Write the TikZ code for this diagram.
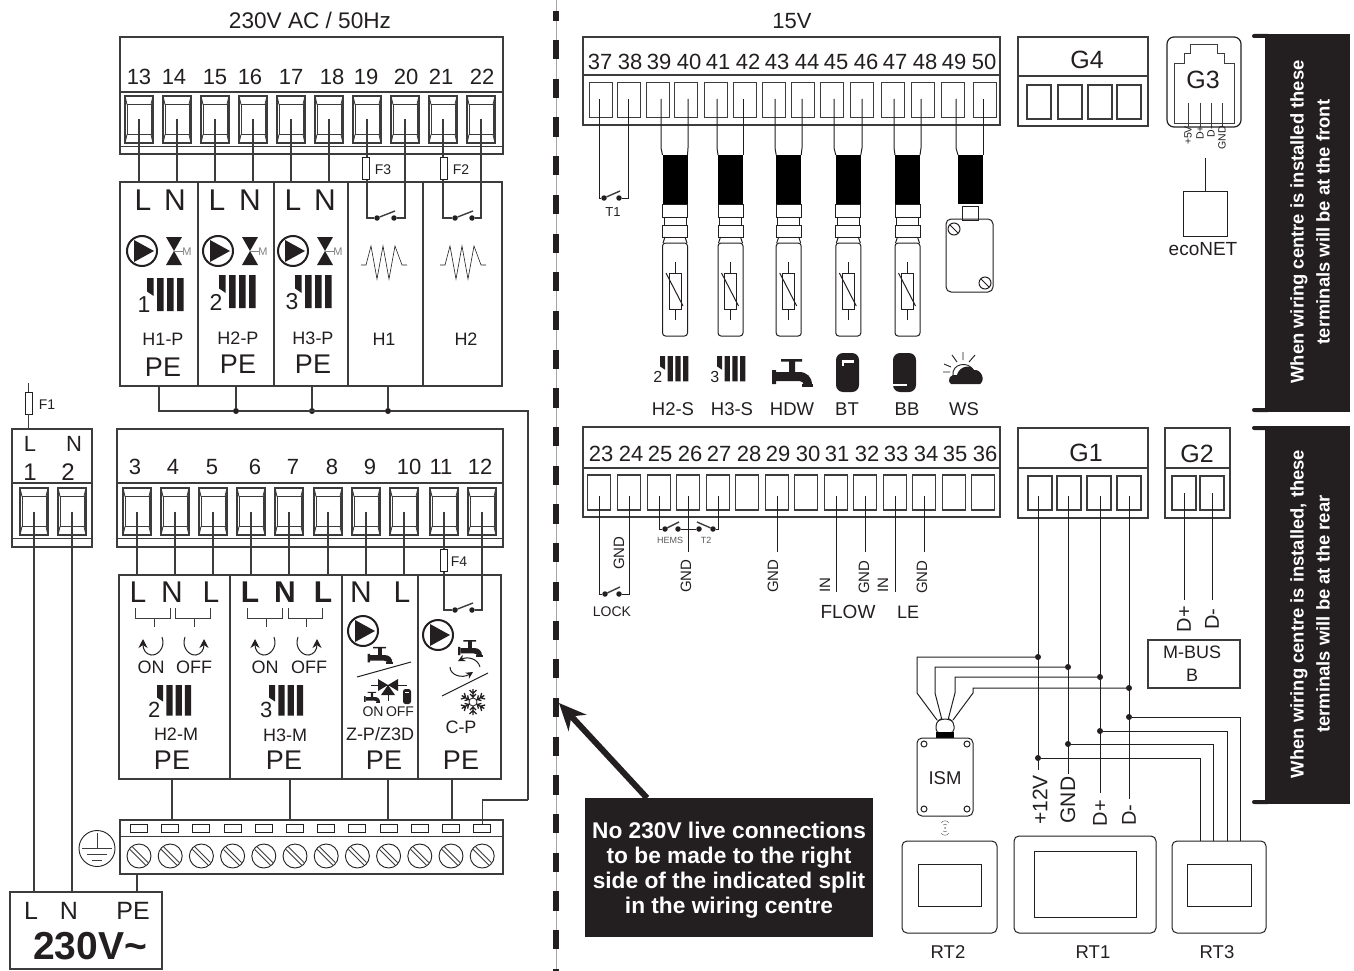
\documentclass[tikz,border=0pt]{standalone}
\usepackage{fontspec}
\setmainfont{Liberation Sans}
\usetikzlibrary{arrows.meta}
\definecolor{ink}{HTML}{231F20}
\definecolor{wirecol}{HTML}{3C3C3C}

% terminal with inner frame
\newcommand{\bigterm}[3]{
  \node[bigbox] (t#1) at (#2,#3) {};
  \draw[frame] (#2-12,#3-15) rectangle (#2+12,#3+15);
  \draw[frame] (#2-14,#3-23.5) -- (#2-12,#3-15) (#2+14,#3-23.5) -- (#2+12,#3-15);
  \draw[frame] (#2-14,#3+23.5) -- (#2-12,#3+15) (#2+14,#3+23.5) -- (#2+12,#3+15);
}
\newcommand{\pumpicon}[2]{
  \draw[line width=2pt,ink] (#1,#2) circle (15pt);
  \fill[ink] (#1-8,#2-11) -- (#1+12,#2) -- (#1-8,#2+11) -- cycle;
}
\newcommand{\valveicon}[2]{
  \fill[ink] (#1-8,#2-14) -- (#1+8,#2-14) -- (#1-8,#2+14) -- (#1+8,#2+14) -- cycle;
  \draw[gray,thick] (#1,#2) -- (#1+9,#2);
}
% number, x, y, scale, number font
\newcommand{\radicon}[5]{
  \begin{scope}[shift={(#2,#3)},scale=#4]
    \fill[ink] (0,0) -- (6.7,0) -- (6.7,18) -- (4.5,16.5) -- (0,13.5) -- cycle;
    \fill[ink] (10,0) rectangle (16.7,33) (20,0) rectangle (26.7,33) (30,0) rectangle (36.7,33);
    \node[fs=#5] (rnum#1#2) at (-3,27) {#1};
  \end{scope}
}
\newcommand{\tapicon}[3]{
  \begin{scope}[shift={(#1,#2)},scale=#3]
    \fill[ink] (-11,-13) rectangle (10,-10.5) (-3,-10.5) rectangle (3,1) (-20,-2) rectangle (-16,12);
    \fill[ink] (-16,0) -- (7,0) .. controls (15,0) and (20,5) .. (20,13) -- (12,13) .. controls (12,11) and (10,9) .. (6,9) -- (-16,9) -- cycle;
    \fill[ink] (10,12) rectangle (21,15);
  \end{scope}
}
\newcommand{\heaticon}[2]{
  \draw[ink,semithick] (#1,#2) -- (#1+5,#2) -- (#1+10,#2-19) -- (#1+16,#2+14) -- (#1+22,#2-19) -- (#1+28,#2+14) -- (#1+34,#2-19) -- (#1+41,#2) -- (#1+46,#2);
}
\newcommand{\fuse}[3]{
  \node[fusebox] (#1) at (#2,#3) {};
}
% switch dots and lever
\newcommand{\contact}[4]{
  \node[dot,minimum size=5.5pt] (#1a) at (#2,#4) {};
  \node[dot,minimum size=5.5pt] (#1b) at (#3,#4) {};
  \path (#1a) edge [wire] (#3+1,#4-7);
}
% sensor body below the cable
\newcommand{\sensor}[4]{
  \node[cable] (s#1) at (#2,179.5) {};
  \draw[thinwire] (w#3) -- (w#3 |- 0,148) -- (s#1.north west);
  \draw[thinwire] (w#4) -- (w#4 |- 0,148) -- (s#1.north east);
  \draw[thinwire] (#2-12.5,204) rectangle (#2+12.5,217);
  \draw[thinwire] (#2-11,217) rectangle (#2+11,225);
  \draw[thinwire] (#2-12.5,225) rectangle (#2+12.5,237);
  \draw[thinwire] (#2-10,237) -- (#2-12,243) (#2+10,237) -- (#2+12,243);
  \draw[thinwire,rounded corners=3pt] (#2-12.5,243) -- (#2+12.5,243) -- (#2+12.5,336) -- (#2-12.5,336) -- cycle;
  \draw[thinwire] (#2,262) -- (#2,320);
  \draw[thinwire,fill=white] (#2-6,273) rectangle (#2+6,309);
  \draw[thinwire] (#2-9,273) -- (#2+8,306);
}
\newcommand{\curlon}[2]{
  \draw[ink,line width=1pt,-{Stealth[length=9pt,width=9pt]}] (#1+10,#2-8) .. controls (#1+14,#2+3) and (#1+5,#2+11) .. (#1-1,#2+10) .. controls (#1-6,#2+9) and (#1-9,#2+5) .. (#1-9,#2-6);
}
\newcommand{\curloff}[2]{
  \draw[ink,line width=1pt,-{Stealth[length=9pt,width=9pt]}] (#1-10,#2-8) .. controls (#1-14,#2+3) and (#1-5,#2+11) .. (#1+1,#2+10) .. controls (#1+6,#2+9) and (#1+9,#2+5) .. (#1+9,#2-6);
}
\newcommand{\relaybrack}[6]{
  \draw[frame] (#1,608) -- (#1,618) -- (#2,618) -- (#2,608);
  \draw[frame] (#3,608) -- (#3,618) -- (#4,618) -- (#4,608);
  \draw[frame] (#5,618) -- (#5,627) (#6,618) -- (#6,627);
}
\newcommand{\screwhead}[3]{
  \node[screw] (#1) at (#2,#3) {};
  \draw[frame] (#2-9,#3-6.5) -- (#2+6.5,#3+9) (#2-6.5,#3-9) -- (#2+9,#3+6.5);
}

\begin{document}
\begin{tikzpicture}[x=1pt,y=-1pt,every node/.style={inner sep=0pt,outer sep=0pt}]
  \tikzset{fs/.style={font=\fontsize{#1}{#1}\selectfont,text=ink}}
  \tikzset{fsb/.style={font=\fontsize{#1}{#1}\selectfont\bfseries,text=ink}}
  \tikzset{frame/.style={draw=wirecol,line width=0.9pt}}
  \tikzset{wire/.style={draw=wirecol,line width=1.4pt}}
  \tikzset{thinwire/.style={draw=ink,line width=1pt}}
  \tikzset{blockbox/.style={draw=wirecol,line width=1.4pt,fill=white,rectangle}}
  \tikzset{bigbox/.style={draw=wirecol,line width=1.2pt,rectangle,minimum width=28pt,minimum height=47pt}}
  \tikzset{smallbox/.style={draw=wirecol,line width=1.2pt,rectangle,minimum width=23pt,minimum height=35pt}}
  \tikzset{modbox/.style={draw=wirecol,line width=1.4pt,rectangle,minimum height=204pt}}
  \tikzset{fusebox/.style={draw=ink,line width=0.9pt,fill=white,rectangle,minimum width=7pt,minimum height=22pt}}
  \tikzset{dot/.style={circle,fill=ink,minimum size=6pt}}
  \tikzset{cable/.style={fill=black,rectangle,minimum width=25pt,minimum height=49pt}}
  \tikzset{screw/.style={circle,draw=ink,line width=0.9pt,minimum size=24pt}}
  \tikzset{panel/.style={draw=ink,line width=1pt,rectangle,rounded corners=5pt}}
  \tikzset{display/.style={draw=ink,line width=1pt,rectangle}}
  \tikzset{bar/.style={fill=ink,rectangle,minimum width=85pt,minimum height=378pt}}
  \tikzset{bartext/.style={rotate=90,align=center,text=white,font=\fontsize{18.4}{26}\selectfont\bfseries}}
  \useasboundingbox (0,0) rectangle (1354,971);

  % split line
  \draw[gray!70,line width=0.7pt] (556,0) -- (556,971);
  \draw[ink,line width=6pt,dash pattern=on 19.2pt off 19.5pt] (556,40) -- (556,971);
  \draw[ink,line width=6pt] (556,11) -- (556,21);

  \node[fs=22.6] (mains) at (310,20) {230V AC / 50Hz};
  \node[fs=22] (low) at (792,21) {15V};

  % terminals 13-22
  \node[blockbox,minimum width=383pt,minimum height=117pt] (bloA) at (311.5,95.5) {};
  \draw[wire] (120,92) -- (503,92);
  \draw[frame] (120,146) -- (503,146);
  \foreach \n/\bx/\lx in {13/139/139,14/177/174,15/215/215,16/253/250,17/291/291,18/329/332,19/367/366,20/405/406,21/443/441,22/481/482}{
    \bigterm{\n}{\bx}{119.5}
    \node[fs=22] (lab\n) at (\lx,77) {\n};
  }

  % modules H1-P .. H2
  \node[modbox,minimum width=78pt] (mHOP) at (159,284) {};
  \node[modbox,minimum width=76pt] (mHTP) at (236,284) {};
  \node[modbox,minimum width=74pt] (mHRP) at (311,284) {};
  \node[modbox,minimum width=75pt] (mHO) at (385.5,284) {};
  \node[modbox,minimum width=79pt] (mHT) at (462.5,284) {};
  \foreach \n in {13,14,15,16,17,18}{
    \path (t\n.center) edge [wire] (t\n.center |- mHOP.north);
  }
  \foreach \x/\y/\lab in {143/200/L,175/200/N,217/200/L,250/200/N,293/200/L,325/200/N}{
    \node[fs=30] (top\x) at (\x,\y) {\lab};
  }
  \foreach \x/\v in {142/174,218/250,293/325}{
    \pumpicon{\x}{251}
    \valveicon{\v}{251}
    \node[fs=11,text=gray] (mot\v) at (\v+13,252) {M};
  }
  \radicon{1}{147}{278}{1}{23}
  \radicon{2}{219}{275}{1}{23}
  \radicon{3}{295}{275}{1}{23}
  \node[fs=18] (tHOP) at (163,339) {H1-P};
  \node[fs=18] (tHTP) at (238,338) {H2-P};
  \node[fs=18] (tHRP) at (313,338) {H3-P};
  \node[fs=18] (tHO) at (384,339) {H1};
  \node[fs=18] (tHT) at (466,339) {H2};
  \node[fs=27] (peA) at (163,367) {PE};
  \node[fs=27] (peB) at (238,364) {PE};
  \node[fs=27] (peC) at (313,364) {PE};
  \heaticon{361}{265}
  \heaticon{440}{265}

  % relay contacts H1, H2
  \contact{swA}{377}{394}{218}
  \contact{swB}{455}{472}{218}
  \draw[wire] (t19.center) |- (swAa);
  \draw[wire] (swAb) -| (t20.center);
  \draw[wire] (t21.center) |- (swBa);
  \draw[wire] (swBb) -| (t22.center);
  \fuse{fThree}{365.5}{168}
  \fuse{fTwo}{443.5}{168}
  \node[fs=14] (lThree) at (383,170) {F3};
  \node[fs=14] (lTwo) at (461,170) {F2};

  % PE bus
  \node[dot] (jA) at (236,411) {};
  \node[dot] (jB) at (312,411) {};
  \node[dot] (jC) at (388,411) {};
  \coordinate (busR) at (528,800);
  \path (jA) edge [wire] (jA |- mHTP.south);
  \path (jB) edge [wire] (jB |- mHRP.south);
  \path (jC) edge [wire] (jC |- mHO.south);
  \draw[wire] (mHOP.south) |- (jA);
  \path (jA) edge [wire] (jC);
  \draw[wire] (jC) -| (busR);

  % terminals 1-2
  \node[blockbox,minimum width=80pt,minimum height=118pt] (bloB) at (52,488) {};
  \draw[wire] (12,483) -- (92,483);
  \draw[frame] (12,538) -- (92,538);
  \bigterm{1}{34}{511.5}
  \bigterm{2}{72}{511.5}
  \node[fs=22] (labL) at (30,444) {L};
  \node[fs=22] (labN) at (74,444) {N};
  \node[fs=24] (lab1) at (30,472) {1};
  \node[fs=24] (lab2) at (68,472) {2};
  \coordinate (fuseTop) at (28.5,383);
  \fuse{fOne}{28.5}{403}
  \path (fuseTop) edge [wire] (fOne.north);
  \path (fOne.south) edge [wire] (fOne.south |- bloB.north);
  \node[fs=14] (lOne) at (47,405) {F1};

  % terminals 3-12
  \node[blockbox,minimum width=386pt,minimum height=118pt] (bloC) at (310,488) {};
  \draw[wire] (117,483) -- (503,483);
  \draw[frame] (117,538) -- (503,538);
  \foreach \n/\bx/\lx in {3/137/135,4/175/173,5/213/212,6/251/255,7/289/293,8/328/332,9/366/370,10/404/409,11/444/441,12/482/480}{
    \bigterm{\n}{\bx}{511.5}
    \node[fs=22] (lab\n) at (\lx,467) {\n};
  }

  % modules H2-M .. C-P
  \node[modbox,minimum width=111pt] (mHTM) at (174.5,677) {};
  \node[modbox,minimum width=112pt] (mHRM) at (286,677) {};
  \node[modbox,minimum width=76pt] (mZP) at (380,677) {};
  \node[modbox,minimum width=83pt] (mCP) at (459.5,677) {};
  \foreach \n in {3,4,5,6,7,8,9,10}{
    \path (t\n.center) edge [wire] (t\n.center |- mHTM.north);
  }
  \foreach \x/\lab in {138/L,172/N,211/L,361/N,402/L}{
    \node[fs=30] (ln\x) at (\x,592) {\lab};
  }
  \foreach \x/\lab in {250/L,285/N,323/L}{
    \node[fsb=30] (ln\x) at (\x,592) {\lab};
  }
  \relaybrack{135}{170}{175}{210}{154}{194}
  \relaybrack{247}{282}{288}{322}{266}{306}
  \curlon{152}{645}
  \curloff{195}{645}
  \curlon{264}{645}
  \curloff{308}{645}
  \foreach \x/\lab in {151/ON,194/OFF,265/ON,309/OFF}{
    \node[fs=18] (sw\x) at (\x,667) {\lab};
  }
  \radicon{2}{157}{685}{.93}{22}
  \radicon{3}{269}{685}{.93}{22}
  \node[fs=18] (tHTM) at (176,734) {H2-M};
  \node[fs=18] (tHRM) at (285,735) {H3-M};
  \node[fs=18] (tZP) at (380,734) {Z-P/Z3D};
  \node[fs=18] (tCP) at (461,727) {C-P};
  \foreach \x in {172,284,384,461}{
    \node[fs=27] (peL\x) at (\x,760) {PE};
  }

  % icons Z-P
  \pumpicon{363}{631}
  \tapicon{380}{655}{.62}
  \draw[thinwire] (357,677) -- (411,662);
  \draw[thinwire] (371,685) -- (407,685);
  \fill[ink] (378,679) -- (388,685) -- (378,691) -- cycle;
  \fill[ink] (398,679) -- (388,685) -- (398,691) -- cycle;
  \fill[ink] (381,695) -- (388,685) -- (395,695) -- cycle;
  \draw[thinwire] (388,695) -- (388,701);
  \tapicon{372}{697}{.4}
  \fill[ink,rounded corners=2.5pt] (403,689) rectangle (411,704);
  \draw[white,line width=0.8pt] (405,692.5) -- (409,692.5);
  \node[fs=14] (onZ) at (373,712) {ON};
  \node[fs=14] (offZ) at (400,712) {OFF};

  % icons C-P
  \contact{swC}{455}{472}{610}
  \draw[wire] (t11.center) |- (swCa);
  \draw[wire] (swCb) -| (t12.center);
  \fuse{fFour}{444}{560}
  \node[fs=14] (lFour) at (459,562) {F4};
  \pumpicon{438}{635}
  \tapicon{470}{648}{.6}
  \draw[ink,line width=1pt,-{Stealth[length=7pt,width=7pt]}] (480,667) .. controls (478,659) and (468,656) .. (458,661);
  \draw[ink,line width=1pt,-{Stealth[length=7pt,width=7pt]}] (450,667) .. controls (450,675) and (462,679) .. (473,672);
  \draw[thinwire] (442,696) -- (488,673);
  \foreach \a in {0,60,120,180,240,300}{
    \begin{scope}[shift={(473,702)},rotate=\a]
      \draw[ink,line width=1.3pt] (0,4) -- (0,13) (-3.5,12) -- (0,8.5) -- (3.5,12) (-3,8) -- (0,5) -- (3,8);
    \end{scope}
  }
  \draw[ink,line width=0.8pt] (473,702) circle (4pt);

  % PE rail
  \node[blockbox,minimum width=383pt,minimum height=54pt] (rail) at (311.5,847) {};
  \draw[frame] (120,836) -- (503,836);
  \foreach \i [count=\k] in {0,...,11}{
    \node[draw=ink,line width=0.9pt,rectangle,minimum width=17pt,minimum height=8pt] (slot\k) at (139+31.2*\i,828) {};
    \screwhead{scr\k}{139+31.2*\i}{856}
  }
  \foreach \x/\m in {172/mHTM,290/mHRM,388/mZP,452/mCP}{
    \coordinate (pe\x) at (\x,779);
    \path (pe\x) edge [wire] (pe\x |- rail.north);
  }
  \draw[wire] (busR) -| (slot12.north);
  \node[circle,draw=ink,line width=0.9pt,minimum size=36pt] (earth) at (97,848.5) {};
  \draw[frame] (97,833) -- (97,848) (82,848) -- (112,848) (87,854) -- (107,854) (92,860) -- (102,860);

  % power supply
  \node[blockbox,minimum width=152pt,minimum height=77pt] (supply) at (86,930.5) {};
  \node[fs=25] (sL) at (31,911) {L};
  \node[fs=25] (sN) at (69,911) {N};
  \node[fs=25] (sPE) at (133,911) {PE};
  \node[fsb=39] (sV) at (90,946) {230V\textasciitilde};
  \path (t1.center) edge [wire] (t1.center |- supply.north);
  \path (t2.center) edge [wire] (t2.center |- supply.north);
  \coordinate (scrPE) at (137,874);
  \path (scrPE) edge [wire] (scrPE |- supply.north);

  % terminals 37-50
  \node[blockbox,minimum width=417pt,minimum height=88pt] (bloD) at (791.5,81) {};
  \draw[wire] (583,75) -- (1000,75);
  \foreach \n/\bx/\wx/\lx in {37/601/599/600,38/629/628/630,39/658/661/659,40/686/688/689,41/716/717/718,42/745/743/748,43/774/775/777,44/803/802/807,45/832/834/836,46/862/862/866,47/893/894/895,48/923/921/925,49/953/956/954,50/985/983/984}{
    \node[smallbox] (t\n) at (\bx,100) {};
    \coordinate (w\n) at (\wx,99);
    \node[fs=22] (lab\n) at (\lx,62) {\n};
  }
  \contact{swT}{604}{619}{198}
  \draw[thinwire] (w37) |- (swTa);
  \draw[thinwire] (swTb) -| (w38);
  \node[fs=13] (tTone) at (613,212) {T1};
  \sensor{A}{675}{39}{40}
  \sensor{B}{730.5}{41}{42}
  \sensor{C}{788.7}{43}{44}
  \sensor{D}{848.3}{45}{46}
  \sensor{E}{907.5}{47}{48}
  % weather sensor
  \node[cable] (sF) at (970.5,179.5) {};
  \draw[thinwire] (w49) -- (w49 |- 0,148) -- (sF.north west);
  \draw[thinwire] (w50) -- (w50 |- 0,148) -- (sF.north east);
  \draw[thinwire] (962,206) rectangle (978,220);
  \draw[thinwire,rounded corners=5pt] (946,219) rectangle (993,292);
  \foreach \x/\y in {954/229,985/283}{
    \draw[thinwire] (\x,\y) circle (6pt);
    \draw[thinwire] (\x-4,\y-4) -- (\x+4,\y+4);
  }
  \radicon{2}{660}{356}{.77}{16}
  \radicon{3}{717}{356}{.77}{16}
  \tapicon{792}{372}{1}
  \fill[ink,rounded corners=7pt] (836,353) rectangle (859,392);
  \draw[white,line width=2.5pt] (843,366) -- (843,361.5) -- (854,361.5);
  \fill[ink,rounded corners=7pt] (893,353) rectangle (916,392);
  \draw[white,line width=2.5pt] (893,385) -- (907,385);
  % weather icon
  \draw[ink,line width=0.9pt] (952,355) -- (957,362) (963,352) -- (963,360) (975,355) -- (969,362) (944,364) -- (951,367) (943,372) -- (950,372);
  \draw[ink,line width=0.9pt] (953,376) .. controls (951,363) and (969,361) .. (973,370);
  \fill[ink] (951,384) .. controls (946,380) and (951,373) .. (957,375) .. controls (959,366) and (971,364) .. (974,370) .. controls (981,369) and (986,380) .. (980,384) -- cycle;
  \foreach \x/\lab in {673/H2-S,732/H3-S,792/HDW,847/BT,907/BB,964/WS}{
    \node[fs=18.5] (sn\x) at (\x,409) {\lab};
  }

  % G4
  \node[blockbox,minimum width=130pt,minimum height=89pt] (bloG) at (1083,81.5) {};
  \draw[wire] (1018,76) -- (1148,76);
  \foreach \x [count=\k] in {1039,1070,1100,1129}{
    \node[smallbox,minimum width=24pt,minimum height=34pt] (gf\k) at (\x,102) {};
  }
  \node[fs=25] (lGf) at (1087,60) {G4};

  % G3
  \node[panel,line width=1.2pt,rounded corners=7pt,minimum width=74pt,minimum height=90pt] (bloR) at (1204,82) {};
  \draw[frame] (1174,124) -- (1174,63) -- (1184,63) -- (1184,53) -- (1190,53) -- (1190,44) -- (1217,44) -- (1217,53) -- (1224,53) -- (1224,63) -- (1234,63) -- (1234,124);
  \draw[frame] (1174,123) -- (1234,123);
  \foreach \x/\lab in {1188/+5V,1200/D+,1211/D-,1222/GND}{
    \coordinate (pin\x) at (\x,103);
    \path (pin\x) edge [frame] (pin\x |- bloR.south);
    \node[fs=10.5,rotate=90,anchor=east] (plab\x) at (\x,126) {\lab};
  }
  \node[fs=25] (lGr) at (1203,80) {G3};
  \node[draw=ink,line width=1pt,rectangle,minimum width=44pt,minimum height=45pt] (eco) at (1205,213.5) {};
  \coordinate (ecoTop) at (1205,158);
  \path (ecoTop) edge [thinwire] (eco.north);
  \node[fs=19] (lEco) at (1203,249) {ecoNET};

  % terminals 23-36
  \node[blockbox,minimum width=417pt,minimum height=90pt] (bloE) at (791.5,472) {};
  \draw[wire] (583,468) -- (1000,468);
  \foreach \n/\bx/\lx in {23/599/601,24/629/631,25/659/660,26/688/690,27/718/719,28/747/749,29/777/778,30/806/808,31/836/837,32/865/867,33/895/896,34/924/926,35/954/955,36/983/985}{
    \node[smallbox] (t\n) at (\bx,492.5) {};
    \coordinate (w\n) at (\bx,496);
    \node[fs=22] (lab\n) at (\lx,454) {\n};
  }
  \contact{swL}{605}{619}{594}
  \draw[thinwire] (w23) |- (swLa);
  \draw[thinwire] (swLb) -| (w24);
  \node[fs=15,rotate=90] (gndA) at (619,553) {GND};
  \node[fs=14] (lLock) at (612,612) {LOCK};
  \contact{swH}{665}{678}{529}
  \node[dot,minimum size=5.5pt] (swUa) at (699,529) {};
  \node[dot,minimum size=5.5pt] (swUb) at (713,529) {};
  \coordinate (swUl) at (697,522);
  \path (swUl) edge [wire] (swUb);
  \draw[thinwire] (w25) |- (swHa);
  \path (swHb) edge [thinwire] (swUa);
  \draw[thinwire] (swUb) -| (w27);
  \node[fs=9,text=gray!70!black] (lHems) at (670,540) {HEMS};
  \node[fs=9,text=gray!70!black] (lTt) at (706,540) {T2};
  \foreach \n/\y in {26/552,29/552,31/592,32/552,33/592,34/552}{
    \coordinate (e\n) at (0,\y);
    \path (w\n) edge [thinwire] (w\n |- e\n);
  }
  \node[fs=15,rotate=90] (gndB) at (686,576) {GND};
  \node[fs=15,rotate=90] (gndC) at (773,576) {GND};
  \node[fs=15,rotate=90] (gndD) at (864,577) {GND};
  \node[fs=15,rotate=90] (gndE) at (922,577) {GND};
  \node[fs=15,rotate=90] (inA) at (825,585) {IN};
  \node[fs=15,rotate=90] (inB) at (883,585) {IN};
  \node[fs=19] (lFlow) at (848,612) {FLOW};
  \node[fs=18] (lLe) at (908,612) {LE};

  % G1, G2
  \node[blockbox,minimum width=130pt,minimum height=90pt] (bloH) at (1083,473) {};
  \draw[wire] (1018,468) -- (1148,468);
  \foreach \x/\k in {1040/a,1069/b,1099/c,1129/d}{
    \node[smallbox,minimum width=24pt,minimum height=34pt] (gg\k) at (\x,493) {};
  }
  \node[fs=25] (lGg) at (1086,453) {G1};
  \node[blockbox,minimum width=65pt,minimum height=90pt] (bloK) at (1197.5,473) {};
  \draw[wire] (1165,468) -- (1230,468);
  \foreach \x/\k in {1184/a,1212/b}{
    \node[smallbox,minimum width=24pt,minimum height=34pt] (gk\k) at (\x,493) {};
    \coordinate (gkw\k) at (\x,600);
    \path (gk\k.center) edge [thinwire] (gkw\k);
  }
  \node[fs=25] (lGk) at (1197,454) {G2};
  \node[fs=20,rotate=90] (dpK) at (1184,619) {D+};
  \node[fs=20,rotate=90] (dmK) at (1212,619) {D-};
  \node[draw=wirecol,line width=1.2pt,rectangle,minimum width=92pt,minimum height=48pt] (mbus) at (1194,664) {};
  \node[fs=18] (lMbus) at (1192,652) {M-BUS};
  \node[fs=18] (lB) at (1192,675) {B};

  % bus to ISM and RT3
  \coordinate (wpt) at (1038,496);
  \coordinate (wgn) at (1068,496);
  \coordinate (wdp) at (1100,496);
  \coordinate (wdm) at (1129,496);
  \coordinate (ept) at (1038,770);
  \coordinate (egn) at (1068,774);
  \coordinate (edp) at (1100,793);
  \coordinate (edm) at (1129,799);
  \path (wpt) edge [thinwire] (ept) (wgn) edge [thinwire] (egn) (wdp) edge [thinwire] (edp) (wdm) edge [thinwire] (edm);
  \node[fs=21,rotate=90] (lpt) at (1040,800) {+12V};
  \node[fs=21,rotate=90] (lgn) at (1068,800) {GND};
  \node[fs=20,rotate=90] (ldp) at (1100,813) {D+};
  \node[fs=20,rotate=90] (ldm) at (1129,815) {D-};
  \node[dot] (ia) at (1038,657) {};
  \node[dot] (ib) at (1068,667) {};
  \node[dot] (ic) at (1100,677) {};
  \node[dot] (id) at (1129,688) {};
  \node[dot] (ra) at (1038,758) {};
  \node[dot] (rb) at (1068,744) {};
  \node[dot] (rc) at (1100,731) {};
  \node[dot] (rd) at (1129,717) {};
  \coordinate (ca) at (937,720);
  \coordinate (cb) at (942,720);
  \coordinate (cc) at (948,720);
  \coordinate (cd) at (953,720);
  \draw[thinwire] (ia) -- (917,657) -- (917,693) -- (ca);
  \draw[thinwire] (ib) -- (935,667) -- (935,693) -- (cb);
  \draw[thinwire] (ic) -- (955,677) -- (955,693) -- (cc);
  \draw[thinwire] (id) -- (973,688) -- (973,693) -- (cd);
  \draw[thinwire,fill=white,rounded corners=4pt] (936,733) -- (936,722) -- (941,719) -- (949,719) -- (954,722) -- (954,733) -- cycle;
  \fill[black] (936,732) rectangle (954,738);
  \node[panel,minimum width=56pt,minimum height=78pt] (ism) at (945,777) {};
  \foreach \x/\y in {924/744,967/744,924/809,967/809}{
    \draw[thinwire] (\x,\y) circle (3pt);
  }
  \node[fs=18.5] (lIsm) at (945,778) {ISM};
  \draw[gray,line width=0.6pt] (941,823) .. controls (943,820) and (947,820) .. (949,823) (943,825) .. controls (944,824) and (946,824) .. (947,825) (941,833) .. controls (943,836) and (947,836) .. (949,833) (943,831) .. controls (944,832) and (946,832) .. (947,831);
  \fill[gray] (945,828) circle (1pt);

  % room panels
  \node[panel,minimum width=95pt,minimum height=92pt] (rtB) at (949.5,887) {};
  \node[display,minimum width=63pt,minimum height=42pt] (scrB) at (949.5,885) {};
  \node[fs=18.5] (lRtB) at (948,952) {RT2};
  \node[panel,minimum width=142pt,minimum height=97pt] (rtA) at (1085,884.5) {};
  \node[display,minimum width=102pt,minimum height=66pt] (scrA) at (1085,884) {};
  \node[fs=18.5] (lRtA) at (1093,952) {RT1};
  \node[panel,minimum width=94pt,minimum height=92pt] (rtC) at (1219,887) {};
  \node[display,minimum width=64pt,minimum height=42pt] (scrC) at (1219,885) {};
  \node[fs=18.5] (lRtC) at (1217,952) {RT3};
  \coordinate (pa) at (1200,841);
  \coordinate (pb) at (1213,841);
  \coordinate (pc) at (1227,841);
  \coordinate (pd) at (1240,841);
  \draw[thinwire] (ra) -| (pa);
  \draw[thinwire] (rb) -| (pb);
  \draw[thinwire] (rc) -| (pc);
  \draw[thinwire] (rd) -| (pd);

  % notes
  \node[fill=ink,rectangle,minimum width=288pt,minimum height=139pt] (note) at (729,867.5) {};
  \node[align=center,text=white,font=\fontsize{22.7}{25}\selectfont\bfseries] (noteText) at (729,870) {No 230V live connections\\to be made to the right\\side of the indicated split\\in the wiring centre};
  \coordinate (tip) at (559,703);
  \coordinate (tail) at (647,798);
  \draw[ink,line width=6pt,-{Stealth[length=27pt,width=24pt]}] (tail) -- (tip);
  \node[bar] (barA) at (1307.5,223) {};
  \node[bar] (barB) at (1307.5,615) {};
  \node[bartext] (txtA) at (1310,222) {When wiring centre is installed these\\terminals will be at the front};
  \node[bartext] (txtB) at (1310,614) {When wiring centre is installed, these\\terminals will be at the rear};
  \fill[ink,rounded corners=2pt] (1252,34) rectangle (1270,38);
  \fill[ink,rounded corners=2pt] (1252,408) rectangle (1270,412);
  \fill[ink,rounded corners=2pt] (1252,426) rectangle (1270,430);
  \fill[ink,rounded corners=2pt] (1252,800) rectangle (1270,804);
\end{tikzpicture}
\end{document}
